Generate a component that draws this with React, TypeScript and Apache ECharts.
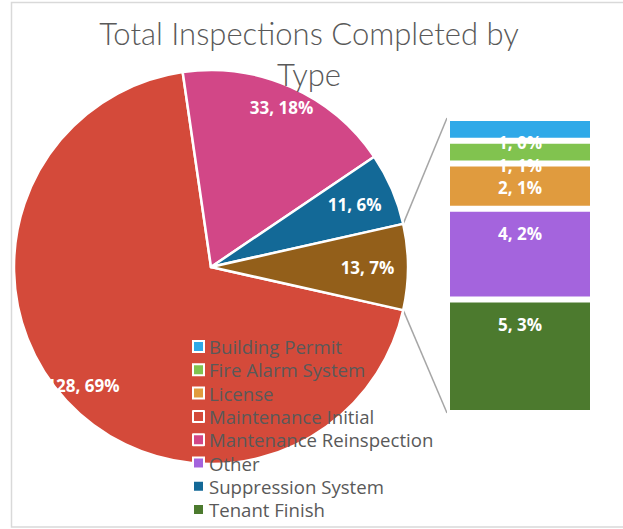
import React, { useEffect, useRef } from "react";
import * as echarts from "echarts";

// ---- data ----
const pieNames = ["Maintenance Initial", "Mantenance Reinspection", "Suppression System"];
const pieValues = [128, 33, 11];
const piePct = [69, 18, 6];
const pieColors = ["#d44a3a", "#d24787", "#136997"];

const combinedName = "Other (combined)";
const combinedPct = 7;
const combinedColor = "#935f1a";

const barNames = ["Building Permit", "Fire Alarm System", "License", "Other", "Tenant Finish"];
const barValues = [1, 1, 2, 4, 5];
const barPct = [0, 1, 1, 2, 3];
const barColors = ["#2fa9e8", "#81c34f", "#e09b3e", "#a464dd", "#4c7a2e"];

const legendOrder = [
  "Building Permit",
  "Fire Alarm System",
  "License",
  "Maintenance Initial",
  "Mantenance Reinspection",
  "Other",
  "Suppression System",
  "Tenant Finish",
];

const titleText = "Total Inspections Completed by\nType";

// ---- layout ----
const W = 623;
const H = 529;
const CX = 211;
const CY = 267;
const R = 197;
const BAR_LEFT = 447;
const BAR_TOP = 118;
const BAR_W = 146;
const BAR_H = 295;
const FONT = "'Open Sans', Lato, sans-serif";
const TITLE_FONT = "Lato, 'Open Sans', sans-serif";

export default function App() {
  const ref = useRef<HTMLDivElement>(null);

  useEffect(() => {
    if (!ref.current) return;
    const chart = echarts.init(ref.current, undefined, { renderer: "svg" });

    const combinedValue = barValues.reduce((a, b) => a + b, 0);
    const total = pieValues.reduce((a, b) => a + b, 0) + combinedValue;
    const halfDeg = (combinedValue / total) * 180;
    const startAngle = -halfDeg;
    const halfRad = (halfDeg * Math.PI) / 180;

    const pieData = [
      ...pieNames.map((n, i) => ({
        name: n,
        value: pieValues[i],
        pct: piePct[i],
        itemStyle: { color: pieColors[i] },
      })),
      { name: combinedName, value: combinedValue, pct: combinedPct, itemStyle: { color: combinedColor } },
    ];

    const labelStyle = {
      color: "#ffffff",
      fontFamily: FONT,
      fontWeight: "bold",
      fontSize: 17,
    };

    const labelOverlay = (inner: number, showNames: string[]) => ({
      type: "pie",
      center: [CX, CY],
      radius: [inner, R],
      startAngle,
      clockwise: true,
      silent: true,
      z: 5,
      avoidLabelOverlap: false,
      labelLine: { show: false },
      data: pieData.map((d) => ({
        name: d.name + " label",
        value: d.value,
        pct: d.pct,
        itemStyle: { color: "rgba(0,0,0,0)", borderWidth: 0 },
        label: { show: showNames.includes(d.name) },
      })),
      label: {
        position: "inside",
        formatter: (p: any) => `${p.value}, ${p.data.pct}%`,
        ...labelStyle,
      },
      emphasis: { disabled: true },
    });

    const barSeries = barNames.map((n, i) => ({
      type: "bar",
      name: n,
      stack: "secondary",
      xAxisIndex: 0,
      yAxisIndex: 0,
      barWidth: "100%",
      data: [barValues[i]],
      itemStyle: { color: barColors[i], borderColor: "#ffffff", borderWidth: 3 },
      label: {
        show: true,
        position: "insideTop",
        distance: 16,
        formatter: () => `${barValues[i]}, ${barPct[i]}%`,
        ...labelStyle,
        lineHeight: 17,
      },
      emphasis: { disabled: true },
    }));

    const p1 = [CX + R * Math.cos(halfRad), CY - R * Math.sin(halfRad)];
    const p2 = [CX + R * Math.cos(halfRad), CY + R * Math.sin(halfRad)];

    chart.setOption({
      animation: false,
      backgroundColor: "#ffffff",
      legend: {
        orient: "vertical",
        left: 192,
        top: 337,
        height: 200,
        padding: 0,
        data: legendOrder,
        selectedMode: false,
        icon: "rect",
        itemWidth: 11,
        itemHeight: 11,
        itemGap: 4.3,
        itemStyle: { borderColor: "#ffffff", borderWidth: 2 },
        textStyle: { fontFamily: FONT, fontSize: 18.6, lineHeight: 18, color: "#595959" },
        z: 10,
      },
      grid: { left: BAR_LEFT, top: BAR_TOP, width: BAR_W, height: BAR_H, containLabel: false },
      xAxis: { type: "category", data: ["secondary"], show: false },
      yAxis: {
        type: "value",
        min: 0,
        max: combinedValue,
        inverse: true,
        show: false,
      },
      graphic: [
        {
          type: "rect",
          shape: { x: 11.5, y: 2.5, width: 700, height: 524.5 },
          style: { fill: "none", stroke: "#d9d9d9", lineWidth: 1.5 },
          z: -10,
        },
        {
          type: "line",
          shape: { x1: p1[0], y1: p1[1], x2: BAR_LEFT, y2: BAR_TOP },
          style: { stroke: "#a6a6a6", lineWidth: 1.5 },
        },
        {
          type: "line",
          shape: { x1: p2[0], y1: p2[1], x2: BAR_LEFT, y2: BAR_TOP + BAR_H },
          style: { stroke: "#a6a6a6", lineWidth: 1.5 },
        },
        {
          type: "text",
          x: 309,
          y: 12,
          z: 20,
          style: {
            text: titleText,
            align: "center",
            verticalAlign: "top",
            fontFamily: TITLE_FONT,
            fontWeight: 300,
            fontSize: 31,
            lineHeight: 41,
            fill: "#595959",
          },
        },
      ],
      series: [
        {
          type: "pie",
          center: [CX, CY],
          radius: [0, R],
          startAngle,
          clockwise: true,
          avoidLabelOverlap: false,
          data: pieData,
          label: { show: false },
          labelLine: { show: false },
          itemStyle: { borderColor: "#ffffff", borderWidth: 2.5 },
          emphasis: { disabled: true },
        },
        labelOverlay(146, ["Maintenance Initial", "Mantenance Reinspection"]),
        labelOverlay(110, ["Suppression System", combinedName]),
        ...barSeries,
      ],
    });

    return () => chart.dispose();
  }, []);

  return (
    <div
      ref={ref}
      style={{ position: "fixed", left: 0, top: 0, width: W, height: H }}
    />
  );
}
